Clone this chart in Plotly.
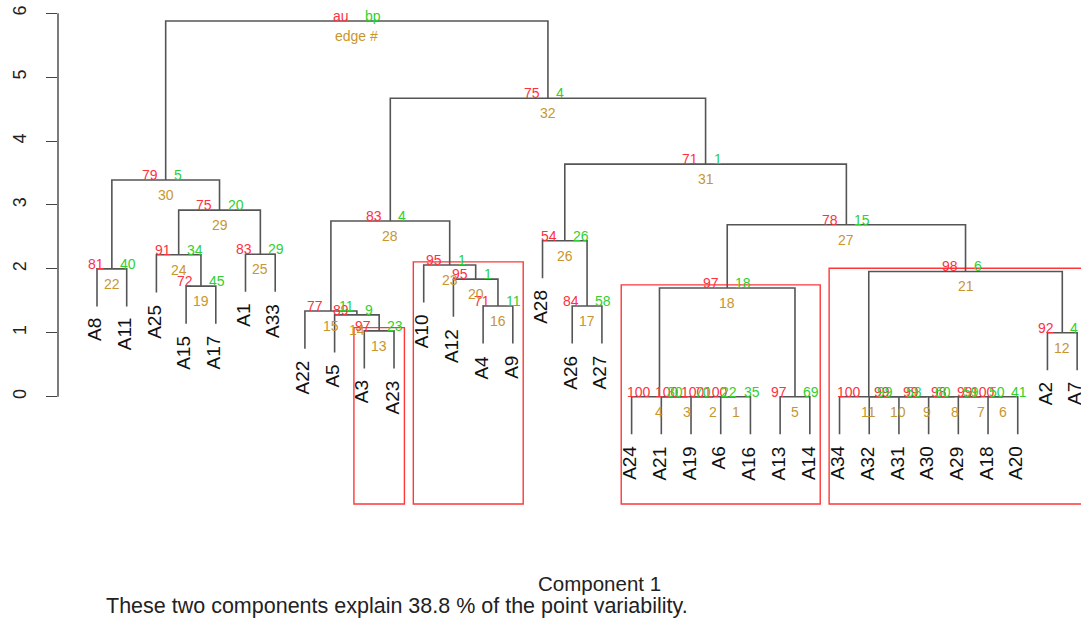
import plotly.graph_objects as go

# ---------------- data ----------------
leaf_order = ["A8", "A11", "A25", "A15", "A17", "A1", "A33", "A22", "A5", "A3",
              "A23", "A10", "A12", "A4", "A9", "A28", "A26", "A27", "A24", "A21",
              "A19", "A6", "A16", "A13", "A14", "A34", "A32", "A31", "A30", "A29",
              "A18", "A20", "A2", "A7"]

# merge k (edge # k) joins merge_left[k-1] and merge_right[k-1]; ints refer to earlier edges
merge_left = ["A6", "A19", "A21", "A24", "A13", "A18", "A29", "A30", "A31", "A32",
              "A34", "A2", "A3", "A5", "A22", "A4", "A26", 4, "A15", "A12",
              11, "A8", "A10", "A25", "A1", "A28", 18, 15, 24, 22, 26, 28, 30]
merge_right = ["A16", 1, 2, 3, "A14", "A20", 6, 7, 8, 9,
               10, "A7", "A23", 13, 14, "A9", "A27", 5, "A17", 16,
               12, "A11", 20, 19, "A33", 17, 21, 23, 25, 29, 27, 31, 32]
merge_height = [0, 0, 0, 0, 0, 0, 0, 0, 0, 0,
                0, 1.00, 1.03, 1.28, 1.34, 1.42, 1.42, 1.70, 1.73, 1.84,
                1.96, 2.00, 2.06, 2.22, 2.23, 2.44, 2.69, 2.75, 2.92, 3.39,
                3.64, 4.67, 5.88]
au_values = [100, 100, 100, 100, 97, 100, 99, 98, 99, 99,
             100, 92, 97, 89, 77, 71, 84, 97, 72, 95,
             98, 81, 95, 91, 83, 54, 78, 83, 75, 79,
             71, 75, None]
bp_values = [35, 22, 70, 30, 69, 41, 50, 59, 60, 58,
             99, 4, 23, 9, 11, 11, 58, 18, 45, 1,
             6, 40, 1, 34, 29, 26, 15, 4, 20, 5,
             1, 4, None]
y_ticks = [0, 1, 2, 3, 4, 5, 6]
xlabel_text = "Component 1"
sub_text = "These two components explain 38.8 % of the point variability."
alpha = 95

# ---------------- style ----------------
FONT = "Liberation Sans, Arial, sans-serif"
LINE_COL = "#555555"
AU_COL = "#ff3040"
BP_COL = "#2fd02f"
EDGE_COL = "#c8962d"
RECT_COL = "rgba(255,20,20,0.85)"

hang = 0.1 * max(merge_height)
pos = {name: i + 1 for i, name in enumerate(leaf_order)}
n_edges = len(merge_height)

node_x = {}
members = {}


def cx(c):
    return pos[c] if isinstance(c, str) else node_x[c]


def cmem(c):
    return {pos[c]} if isinstance(c, str) else members[c]


xs, ys = [], []
for k in range(1, n_edges + 1):
    l, r, h = merge_left[k - 1], merge_right[k - 1], merge_height[k - 1]
    xl, xr = cx(l), cx(r)
    node_x[k] = (xl + xr) / 2
    members[k] = cmem(l) | cmem(r)
    yl = h - hang if isinstance(l, str) else merge_height[l - 1]
    yr = h - hang if isinstance(r, str) else merge_height[r - 1]
    xs += [xl, xl, xr, xr, None]
    ys += [yl, h, h, yr, None]

fig = go.Figure()
fig.add_trace(go.Scatter(x=xs, y=ys, mode="lines",
                         line=dict(color=LINE_COL, width=1.6),
                         hoverinfo="skip", showlegend=False))

ann = []
# au / bp / edge labels
for k in range(1, n_edges + 1):
    x, h = node_x[k], merge_height[k - 1]
    a = "au" if au_values[k - 1] is None else str(au_values[k - 1])
    b = "bp" if bp_values[k - 1] is None else str(bp_values[k - 1])
    e = "edge #" if au_values[k - 1] is None else str(k)
    ann.append(dict(x=x, y=h, text=a, showarrow=False, xanchor="right", yanchor="middle",
                    xshift=-6, yshift=5, font=dict(family=FONT, size=14, color=AU_COL)))
    ann.append(dict(x=x, y=h, text=b, showarrow=False, xanchor="left", yanchor="middle",
                    xshift=6, yshift=5, font=dict(family=FONT, size=14, color=BP_COL)))
    ann.append(dict(x=x, y=h, text=e, showarrow=False, xanchor="center", yanchor="middle",
                    yshift=-15, font=dict(family=FONT, size=14, color=EDGE_COL)))

# leaf labels
for k in range(1, n_edges + 1):
    h = merge_height[k - 1]
    for c in (merge_left[k - 1], merge_right[k - 1]):
        if isinstance(c, str):
            ann.append(dict(x=pos[c], y=h - hang, text=c, showarrow=False, textangle=-90,
                            xanchor="center", yanchor="top", yshift=-10, xshift=-2,
                            font=dict(family=FONT, size=19, color="#111111")))

# pvrect-style rectangles
shapes = []
covered = set()
mx = 0.35
my = 0.05
y_bottom = -1.68
for k in range(n_edges - 1, 0, -1):
    v = au_values[k - 1]
    if v is not None and v >= alpha:
        m = members[k]
        if not (m & covered):
            shapes.append(dict(type="rect", xref="x", yref="y",
                               x0=min(m) - mx, x1=max(m) + mx,
                               y0=y_bottom, y1=merge_height[k - 1] + my,
                               line=dict(color=RECT_COL, width=1.4)))
        covered |= m

# y axis line between first and last tick
shapes.append(dict(type="line", xref="paper", yref="y", x0=0, x1=0,
                   y0=y_ticks[0], y1=y_ticks[-1], line=dict(color="#444444", width=1.4)))

ann.append(dict(xref="paper", yref="paper", x=0.529, y=-0.08, text=xlabel_text,
                showarrow=False, xanchor="center", yanchor="middle",
                font=dict(family=FONT, size=20.5, color="#222222")))
ann.append(dict(xref="paper", yref="paper", x=0.045, y=-0.122, text=sub_text,
                showarrow=False, xanchor="left", yanchor="middle",
                font=dict(family=FONT, size=21.5, color="#222222")))

fig.update_layout(
    width=1081, height=628,
    margin=dict(l=58, r=0, t=0, b=88),
    paper_bgcolor="white", plot_bgcolor="white",
    annotations=ann, shapes=shapes,
    xaxis=dict(range=[-0.313, 34.13], visible=False),
    yaxis=dict(range=[-2.243, 6.208], tickvals=y_ticks, ticks="outside", ticklen=11,
               tickwidth=1.4, tickcolor="#444444", tickangle=-90,
               tickfont=dict(family=FONT, size=18, color="#222222"),
               showgrid=False, zeroline=False, showline=False, ticklabelstandoff=13),
)

fig.write_html("out.html")
